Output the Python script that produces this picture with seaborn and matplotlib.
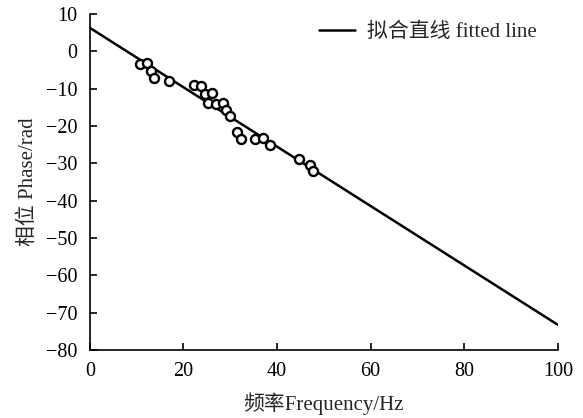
import matplotlib
matplotlib.use("Agg")
import matplotlib.pyplot as plt
import seaborn as sns
import pandas as pd

# measured data
freq = [10.7, 12.3, 13.0, 13.7, 16.9, 22.2, 23.8, 24.6, 26.1, 25.3, 27.0, 28.5,
        29.2, 29.9, 31.5, 32.2, 35.3, 37.0, 38.5, 44.7, 47.0, 47.7]
phase = [-3.4, -3.2, -5.3, -7.1, -8.0, -9.0, -9.2, -11.5, -11.3, -13.9, -14.2, -13.9,
         -15.7, -17.3, -21.7, -23.5, -23.5, -23.1, -25.1, -28.9, -30.5, -32.1]
# fitted line end points
fit_x = [0, 100]
fit_y = [6.3, -73.3]

xticks = [0, 20, 40, 60, 80, 100]
yticks = [10, 0, -10, -20, -30, -40, -50, -60, -70, -80]

sns.set_theme(style="ticks")
plt.rcParams['font.family'] = ['Liberation Serif', 'Noto Sans CJK SC']
plt.rcParams['axes.unicode_minus'] = True

fig = plt.figure(figsize=(5.83, 4.18), dpi=100)
ax = fig.add_axes([0.154, 0.163, 0.803, 0.8035])

df_pts = pd.DataFrame({"f": freq, "p": phase})
df_fit = pd.DataFrame({"f": fit_x, "p": fit_y})

sns.lineplot(data=df_fit, x="f", y="p", ax=ax, color="black", linewidth=1.8,
             label="拟合直线 fitted line")
ax.plot(df_pts["f"], df_pts["p"], linestyle="none", marker="o", markersize=6.5,
        markerfacecolor="white", markeredgecolor="black", markeredgewidth=1.7, zorder=3)

ax.set_xlim(0, 100)
ax.set_ylim(-80, 10)
ax.set_xticks(xticks)
ax.set_yticks(yticks)
ax.tick_params(direction="in", length=5, width=1.2, labelsize=14.5, colors="black")
ax.tick_params(axis="x", pad=9)
ax.tick_params(axis="y", pad=9)
for s in ["top", "right"]:
    ax.spines[s].set_visible(False)
for s in ["left", "bottom"]:
    ax.spines[s].set_linewidth(1.2)
    ax.spines[s].set_color("black")

ax.set_xlabel("频率Frequency/Hz", fontsize=15, labelpad=8)
ax.set_ylabel("相位 Phase/rad", fontsize=15, labelpad=6)

leg = ax.legend(loc="upper right", frameon=False, fontsize=15, handlelength=1.7,
                handletextpad=0.6, bbox_to_anchor=(0.995, 1.03))

fig.savefig("out.png", dpi=100)
